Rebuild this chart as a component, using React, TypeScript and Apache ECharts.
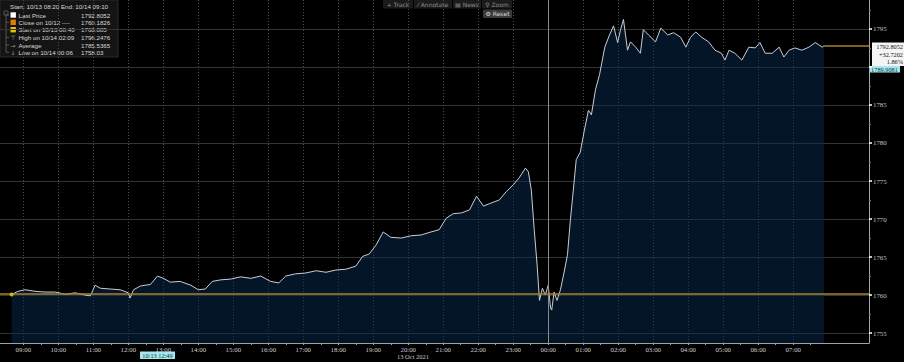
import React, { useEffect, useRef } from "react";
import * as echarts from "echarts";

// ---- data ----
const times: string[] = [
  "10-13 08:40", "10-13 08:51", "10-13 09:03", "10-13 09:20", "10-13 09:37", "10-13 09:55",
  "10-13 10:12", "10-13 10:29", "10-13 10:46", "10-13 10:55", "10-13 11:03", "10-13 11:12",
  "10-13 11:29", "10-13 11:46", "10-13 12:00", "10-13 12:03", "10-13 12:09", "10-13 12:21",
  "10-13 12:38", "10-13 12:50", "10-13 13:00", "10-13 13:12", "10-13 13:29", "10-13 13:47",
  "10-13 14:00", "10-13 14:12", "10-13 14:24", "10-13 14:38", "10-13 14:55", "10-13 15:13",
  "10-13 15:30", "10-13 15:47", "10-13 16:04", "10-13 16:18", "10-13 16:30", "10-13 16:47",
  "10-13 17:04", "10-13 17:22", "10-13 17:39", "10-13 17:56", "10-13 18:13", "10-13 18:30",
  "10-13 18:42", "10-13 18:53", "10-13 19:05", "10-13 19:17", "10-13 19:30", "10-13 19:48",
  "10-13 20:05", "10-13 20:22", "10-13 20:39", "10-13 20:53", "10-13 21:05", "10-13 21:17",
  "10-13 21:31", "10-13 21:45", "10-13 21:57", "10-13 22:09", "10-13 22:22", "10-13 22:36",
  "10-13 22:48", "10-13 23:00", "10-13 23:10", "10-13 23:21", "10-13 23:26", "10-13 23:31",
  "10-13 23:36", "10-13 23:41", "10-13 23:45", "10-13 23:50", "10-13 23:55", "10-14 00:00",
  "10-14 00:04", "10-14 00:06", "10-14 00:10", "10-14 00:15", "10-14 00:21", "10-14 00:28",
  "10-14 00:33", "10-14 00:38", "10-14 00:43", "10-14 00:48", "10-14 00:55", "10-14 01:02",
  "10-14 01:09", "10-14 01:14", "10-14 01:21", "10-14 01:28", "10-14 01:37", "10-14 01:45",
  "10-14 01:52", "10-14 01:59", "10-14 02:04", "10-14 02:09", "10-14 02:16", "10-14 02:21",
  "10-14 02:30", "10-14 02:38", "10-14 02:43", "10-14 02:52", "10-14 03:04", "10-14 03:13",
  "10-14 03:25", "10-14 03:35", "10-14 03:47", "10-14 03:56", "10-14 04:04", "10-14 04:13",
  "10-14 04:23", "10-14 04:35", "10-14 04:46", "10-14 04:57", "10-14 05:03", "10-14 05:10",
  "10-14 05:20", "10-14 05:32", "10-14 05:44", "10-14 05:55", "10-14 06:03", "10-14 06:12",
  "10-14 06:24", "10-14 06:36", "10-14 06:44", "10-14 06:53", "10-14 07:03", "10-14 07:15",
  "10-14 07:27", "10-14 07:38", "10-14 07:50", "10-14 07:53",
];
const prices: number[] = [
  1760.085, 1760.5, 1760.7, 1760.5, 1760.4, 1760.4,
  1760.1, 1760.3, 1760.0, 1759.9, 1761.3, 1760.9,
  1760.8, 1760.7, 1760.3, 1759.6, 1760.7, 1761.2,
  1761.4, 1762.5, 1762.2, 1761.7, 1761.8, 1761.3,
  1760.7, 1760.8, 1761.8, 1762.0, 1762.1, 1762.4,
  1762.2, 1762.5, 1761.8, 1761.6, 1762.5, 1762.8,
  1762.9, 1763.2, 1763.0, 1763.3, 1763.4, 1763.8,
  1765.1, 1765.4, 1766.6, 1768.3, 1767.6, 1767.5,
  1767.8, 1767.9, 1768.3, 1768.6, 1770.1, 1770.7,
  1770.8, 1771.2, 1773.0, 1771.7, 1772.1, 1772.5,
  1773.6, 1774.5, 1775.4, 1776.7, 1776.2, 1773.8,
  1768.6, 1763.9, 1759.3, 1760.9, 1760.0, 1761.3,
  1758.3, 1758.03, 1760.4, 1759.3, 1760.7, 1763.3,
  1765.3, 1769.9, 1773.8, 1777.8, 1778.8, 1781.7,
  1784.3, 1783.7, 1787.0, 1789.0, 1792.6, 1794.2,
  1795.4, 1793.2, 1794.9, 1796.2476, 1792.2, 1793.3,
  1792.6, 1791.8, 1794.9, 1794.2, 1793.3, 1795.1,
  1794.2, 1794.5, 1793.9, 1792.6, 1793.9, 1794.6,
  1793.9, 1793.3, 1792.2, 1791.8, 1790.9, 1792.2,
  1791.8, 1790.9, 1792.6, 1792.5, 1793.2, 1791.8,
  1791.8, 1792.6, 1791.3, 1792.2, 1792.5, 1792.2,
  1792.6, 1793.2, 1792.6, 1792.8052,
];
const hourTicks: string[] = [
  "10-13 09:00", "10-13 10:00", "10-13 11:00", "10-13 12:00", "10-13 13:00", "10-13 14:00",
  "10-13 15:00", "10-13 16:00", "10-13 17:00", "10-13 18:00", "10-13 19:00", "10-13 20:00",
  "10-13 21:00", "10-13 22:00", "10-13 23:00", "10-14 00:00", "10-14 01:00", "10-14 02:00",
  "10-14 03:00", "10-14 04:00", "10-14 05:00", "10-14 06:00", "10-14 07:00",
];
const yTicks: number[] = [1755, 1760, 1765, 1770, 1775, 1780, 1785, 1790, 1795];
// 1790 is hidden behind the cross-hair value box in the reference
const yTickLabels: number[] = [1755, 1760, 1765, 1770, 1775, 1780, 1785, 1795];
const yMinorTicks: number[] = [1757.5, 1762.5, 1767.5, 1772.5, 1777.5, 1782.5, 1787.5, 1792.5, 1797.5];
const axisStart = "10-13 08:20";
const axisEnd = "10-14 09:10";
const closePrev = 1760.1826;
const lastPrice = 1792.8052;
const startPoint = { time: "10-13 08:40", value: 1760.085 };
const dayBreak = "10-14 00:00";
const legendHeader = "Start: 10/13 08:20 End: 10/14 09:10";
const legendLabels = ["Last Price", "Close on 10/12 ----", "Start on 10/13 08:40", "High on 10/14 02:09", "Average", "Low on 10/14 00:06"];
const legendValues = ["1792.8052", "1760.1826", "1760.085", "1796.2476", "1785.5365", "1758.03"];
const legendMarks = ["sq:#ffffff", "sq:#e07c00", "sq:#e8c200", "t:⊤", "t:→", "t:↓"];
const lastBoxLines = ["1792.8052", "+32.7202", "1.86%"];
const crossY = "1789.9081";
const crossX = "10/13 12:49";
const dateLabel = "13 Oct 2021";
const toolbarItems = ["+ Track", "⁄ Annotate", "▤ News", "⚲ Zoom"];

const ts = (s: string) => {
  const [md, hm] = s.split(" ");
  const [mo, d] = md.split("-").map(Number);
  const [h, m] = hm.split(":").map(Number);
  return new Date(2021, mo - 1, d, h, m).getTime();
};
const pad = (n: number) => (n < 10 ? "0" + n : "" + n);
const GOLD = "#a6842a";

export default function App() {
  const ref = useRef<HTMLDivElement>(null);
  useEffect(() => {
    if (!ref.current) return;
    const chart = echarts.init(ref.current, undefined, { renderer: "svg" });
    const xMin = ts(axisStart);
    const xMax = ts(axisEnd);
    const hourVals = hourTicks.map(ts);
    const halfVals = hourVals.map((v) => v + 30 * 60000);
    const seriesData = times.map((t, i) => [ts(t), prices[i]]);
    const last = seriesData[seriesData.length - 1];

    const legendG: any[] = [
      { type: "rect", shape: { x: 0, y: 0, width: 118, height: 57 }, style: { fill: "rgba(22,22,22,0.92)", stroke: "#2a2a2a" } },
      { type: "text", style: { x: 10, y: 6.7, text: legendHeader, fill: "#d8d8d8", fontSize: 6.2, fontFamily: "Liberation Sans", verticalAlign: "middle" } },
      { type: "line", shape: { x1: 6, y1: 13, x2: 6, y2: 52.3 }, style: { stroke: "#666", lineWidth: 0.8 } },
      { type: "rect", shape: { x: 4, y: 11, width: 4, height: 4 }, style: { fill: "#161616", stroke: "#777", lineWidth: 0.6 } },
    ];
    const rowYs = [15, 22.3, 29.7, 37.3, 45, 52.3];
    rowYs.forEach((y, i) => {
      legendG.push({ type: "line", shape: { x1: 6, y1: y, x2: 9, y2: y }, style: { stroke: "#666", lineWidth: 0.8 } });
      const mk = legendMarks[i];
      if (mk.startsWith("sq:")) {
        legendG.push({ type: "rect", shape: { x: 10.5, y: y - 2.7, width: 5.4, height: 5.4 }, style: { fill: mk.slice(3) } });
      } else {
        legendG.push({ type: "text", style: { x: 13, y, text: mk.slice(2), fill: "#9a9a9a", fontSize: 6, align: "center", verticalAlign: "middle", fontFamily: "DejaVu Sans" } });
      }
      legendG.push({ type: "text", style: { x: 18.5, y, text: legendLabels[i], fill: "#d8d8d8", fontSize: 6.2, fontFamily: "Liberation Sans", verticalAlign: "middle" } });
      legendG.push({ type: "text", style: { x: 81, y, text: legendValues[i], fill: "#d8d8d8", fontSize: 6.2, fontFamily: "Liberation Sans", verticalAlign: "middle" } });
    });

    const toolX = [[383, 413], [414, 452], [453, 481], [482, 512]];
    const toolG: any[] = [];
    toolbarItems.forEach((t, i) => {
      const [a, b] = toolX[i];
      toolG.push({ type: "rect", shape: { x: a, y: 0, width: b - a, height: 8.5 }, style: { fill: "#1b1b1b" } });
      toolG.push({ type: "text", style: { x: (a + b) / 2, y: 4.3, text: t, fill: "#8c8c8c", fontSize: 6, align: "center", verticalAlign: "middle", fontFamily: "DejaVu Sans" } });
    });
    toolG.push({ type: "rect", shape: { x: 483, y: 9.5, width: 29, height: 8.5, r: 1 }, style: { fill: "#3a3a3a" } });
    toolG.push({ type: "text", style: { x: 497.5, y: 13.8, text: "⚙ Reset", fill: "#dedede", fontSize: 6, align: "center", verticalAlign: "middle", fontFamily: "DejaVu Sans" } });

    const rightG: any[] = [
      { type: "rect", shape: { x: 872, y: 42.5, width: 32, height: 23.5 }, style: { fill: "#f4f4f4" } },
      { type: "text", style: { x: 903, y: 46.5, text: lastBoxLines[0], fill: "#111", fontSize: 6.3, align: "right", verticalAlign: "middle", fontFamily: "Liberation Serif" } },
      { type: "text", style: { x: 903, y: 54.2, text: lastBoxLines[1], fill: "#111", fontSize: 6.3, align: "right", verticalAlign: "middle", fontFamily: "Liberation Serif" } },
      { type: "text", style: { x: 903, y: 61.8, text: lastBoxLines[2], fill: "#111", fontSize: 6.3, align: "right", verticalAlign: "middle", fontFamily: "Liberation Serif" } },
      { type: "rect", shape: { x: 869, y: 66, width: 31, height: 6.5 }, style: { fill: "#a6e6ee" } },
      { type: "text", style: { x: 884.5, y: 69.4, text: crossY, fill: "#12343c", fontSize: 6.3, align: "center", verticalAlign: "middle", fontFamily: "Liberation Serif" } },
      { type: "rect", shape: { x: 140, y: 351.5, width: 35, height: 7.5 }, style: { fill: "#a6e6ee" } },
      { type: "text", style: { x: 157.5, y: 355.4, text: crossX, fill: "#12343c", fontSize: 6.3, align: "center", verticalAlign: "middle", fontFamily: "Liberation Serif" } },
      { type: "text", style: { x: 413, y: 356.5, text: dateLabel, fill: "#c8c8c8", fontSize: 6.5, align: "center", verticalAlign: "middle", fontFamily: "Liberation Serif" } },
    ];

    chart.setOption({
      animation: false,
      backgroundColor: "#000000",
      grid: { left: 0, right: 35, top: 0, bottom: 19, containLabel: false },
      xAxis: [
        {
          type: "value",
          min: xMin,
          max: xMax,
          axisLine: { show: true, lineStyle: { color: "#a0a0a0", width: 1 } },
          axisTick: { show: true, customValues: hourVals, length: 2, lineStyle: { color: "#a0a0a0" } },
          axisLabel: {
            customValues: hourVals,
            color: "#cfcfcf",
            fontSize: 6.8,
            fontFamily: "Liberation Serif",
            margin: 3,
            formatter: (v: number) => {
              const d = new Date(v);
              return pad(d.getHours()) + ":" + pad(d.getMinutes());
            },
          },
          splitLine: { show: true, lineStyle: { color: "#4a4a4a", type: [1, 2], width: 1 } },
        },
        {
          type: "value",
          min: xMin,
          max: xMax,
          position: "bottom",
          axisLine: { show: false },
          axisTick: { show: true, customValues: halfVals, length: 2, lineStyle: { color: "#a0a0a0" } },
          axisLabel: { show: false },
          splitLine: { show: false },
        },
      ],
      yAxis: [
        {
          type: "value",
          position: "right",
          min: 1753.7,
          max: 1798.8,
          axisLine: { show: true, lineStyle: { color: "#a8a8a8", width: 1 } },
          axisTick: { show: true, customValues: yTicks, length: 3, lineStyle: { color: "#ffffff", width: 1.5 } },
          axisLabel: {
            customValues: yTickLabels,
            color: "#c4c4c4",
            fontSize: 6.8,
            fontFamily: "Liberation Serif",
            margin: 4,
            formatter: (v: number) => String(v),
          },
          splitLine: { show: true, lineStyle: { color: "#333333", width: 1 } },
        },
        {
          type: "value",
          position: "right",
          min: 1753.7,
          max: 1798.8,
          axisLine: { show: false },
          axisTick: { show: true, customValues: yMinorTicks, length: 2, lineStyle: { color: "#777" } },
          axisLabel: { show: false },
          splitLine: { show: false },
        },
      ],
      series: [
        {
          type: "line",
          xAxisIndex: 0,
          yAxisIndex: 0,
          data: seriesData,
          showSymbol: false,
          symbol: "none",
          lineStyle: { color: "#c9ced6", width: 1 },
          areaStyle: { color: "rgba(10,44,84,0.68)", origin: "start" },
          markLine: {
            silent: true,
            symbol: ["none", "none"],
            label: { show: false },
            lineStyle: { color: GOLD, width: 1.5, type: "solid" },
            data: [
              { xAxis: ts(dayBreak), lineStyle: { color: "#8a8a8a", width: 1, type: "solid" } },
              { yAxis: closePrev },
              [
                { coord: [last[0], lastPrice] },
                { coord: [xMax, lastPrice] },
              ],
            ],
          },
        },
        {
          type: "scatter",
          xAxisIndex: 0,
          yAxisIndex: 0,
          data: [[ts(startPoint.time), startPoint.value]],
          symbolSize: 4,
          itemStyle: { color: "#f2cc10" },
          z: 5,
        },
      ],
      graphic: [...legendG, ...toolG, ...rightG],
    });
    return () => chart.dispose();
  }, []);
  return <div ref={ref} style={{ position: "absolute", left: 0, top: 0, width: 904, height: 362, background: "#000" }} />;
}
